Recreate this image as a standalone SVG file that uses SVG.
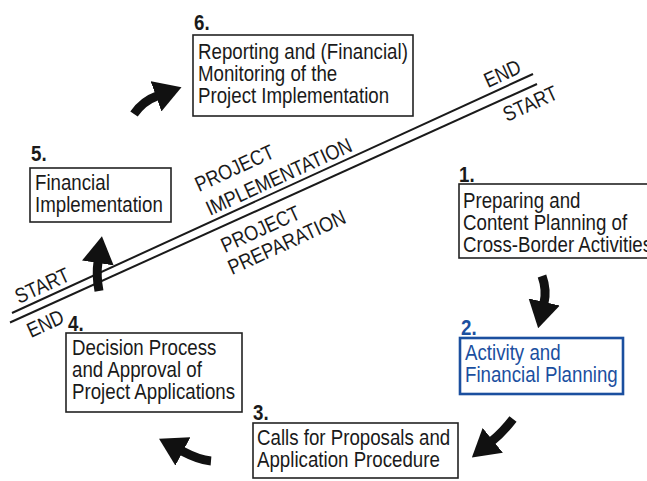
<svg xmlns="http://www.w3.org/2000/svg" width="647" height="481" viewBox="0 0 647 481">
<defs>
<style>
.box{fill:#fff;stroke:#222;stroke-width:1.6}
.box2{fill:#fff;stroke:#1b4f9f;stroke-width:2.6}
.t{font-family:"Liberation Sans",Arial,sans-serif;font-size:22px;fill:#1a1a1a}
.n{font-family:"Liberation Sans",Arial,sans-serif;font-size:22px;font-weight:bold;fill:#1a1a1a}
.blue{fill:#1b4f9f}
.line{stroke:#1a1a1a;stroke-width:2;fill:none}
.arr{stroke:#111;stroke-width:9;fill:none;marker-end:url(#ah)}
.lab{font-family:"Liberation Sans",Arial,sans-serif;font-size:21px;fill:#1a1a1a}
</style>
<marker id="ah" markerUnits="userSpaceOnUse" viewBox="0 0 27 32" refX="1" refY="16" markerWidth="27" markerHeight="32" orient="auto"><path d="M0,0 L27,16 L0,32 Z" fill="#111"/></marker>
</defs>
<rect width="647" height="481" fill="#fff"/>

<g id="timeline">
<line class="line" x1="12" y1="313" x2="533" y2="74"/>
<line class="line" x1="10" y1="322.5" x2="537" y2="84"/>
<text class="lab" transform="translate(488,88) rotate(-24.5) scale(0.86,1)">END</text>
<text class="lab" transform="translate(507,122) rotate(-24.5) scale(0.86,1)">START</text>
<text class="lab" transform="translate(199,192) rotate(-24.5) scale(0.86,1)">PROJECT</text>
<text class="lab" transform="translate(210,216) rotate(-24.5) scale(0.86,1)">IMPLEMENTATION</text>
<text class="lab" transform="translate(225,253) rotate(-24.5) scale(0.86,1)">PROJECT</text>
<text class="lab" transform="translate(232,275) rotate(-24.5) scale(0.86,1)">PREPARATION</text>
<text class="lab" transform="translate(19,304) rotate(-24.5) scale(0.86,1)">START</text>
<text class="lab" transform="translate(31,338) rotate(-24.5) scale(0.86,1)">END</text>
</g>

<g id="node6">
<text class="n" transform="translate(194,30) scale(0.85,1)">6.</text>
<rect class="box" x="193" y="35" width="220" height="81"/>
<text class="t" transform="translate(198,59) scale(0.85,1)"><tspan x="0" y="0">Reporting and (Financial)</tspan><tspan x="0" y="22">Monitoring of the</tspan><tspan x="0" y="44">Project Implementation</tspan></text>
</g>

<g id="node5">
<text class="n" transform="translate(31,161) scale(0.85,1)">5.</text>
<rect class="box" x="30" y="168" width="141" height="54"/>
<text class="t" transform="translate(35,190) scale(0.85,1)"><tspan x="0" y="0">Financial</tspan><tspan x="0" y="22">Implementation</tspan></text>
</g>

<g id="node1">
<text class="n" transform="translate(459,182) scale(0.85,1)">1.</text>
<rect class="box" x="459" y="184" width="200" height="74"/>
<text class="t" transform="translate(463,208) scale(0.85,1)"><tspan x="0" y="0">Preparing and</tspan><tspan x="0" y="22">Content Planning of</tspan><tspan x="0" y="44">Cross-Border Activities</tspan></text>
</g>

<g id="node2">
<text class="n blue" transform="translate(461,335) scale(0.85,1)">2.</text>
<rect class="box2" x="460" y="338" width="163" height="56"/>
<text class="t blue" transform="translate(465,360) scale(0.85,1)"><tspan x="0" y="0">Activity and</tspan><tspan x="0" y="22">Financial Planning</tspan></text>
</g>

<g id="node3">
<text class="n" transform="translate(253,420) scale(0.85,1)">3.</text>
<rect class="box" x="253" y="423" width="205" height="55"/>
<text class="t" transform="translate(257,445) scale(0.85,1)"><tspan x="0" y="0">Calls for Proposals and</tspan><tspan x="0" y="22">Application Procedure</tspan></text>
</g>

<g id="node4">
<text class="n" transform="translate(68,331) scale(0.85,1)">4.</text>
<rect class="box" x="66" y="333" width="176" height="79"/>
<text class="t" transform="translate(72,355) scale(0.85,1)"><tspan x="0" y="0">Decision Process</tspan><tspan x="0" y="22">and Approval of</tspan><tspan x="0" y="44">Project Applications</tspan></text>
</g>

<g id="connectors">
<path class="arr" d="M542,276 Q547,290 544,303"/>
<path class="arr" d="M513,419 Q503,432 492,441"/>
<path class="arr" d="M211,461 Q199,460 182,451"/>
<path class="arr" d="M99,291 Q96,275 98,262"/>
<path class="arr" d="M134,114 Q143,101 157,96"/>
</g>
</svg>
